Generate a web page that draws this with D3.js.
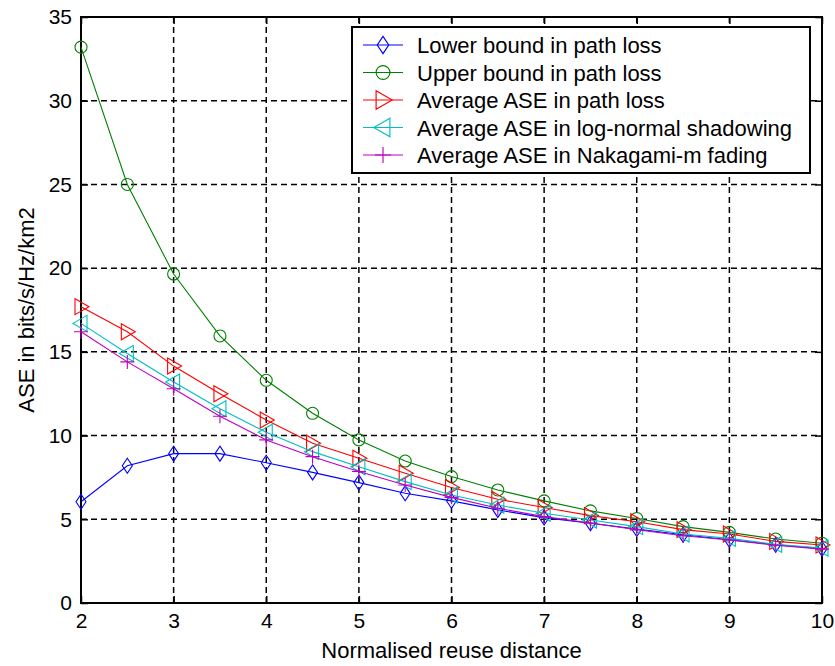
<!DOCTYPE html>
<html>
<head>
<meta charset="utf-8">
<script src="https://cdn.jsdelivr.net/npm/d3@7"></script>
<style>
  body { margin: 0; background: #fff; }
  svg text { font-family: "Liberation Sans", Arial, sans-serif; fill: #000; }
  .grid line { stroke: #000; stroke-width: 1.5; stroke-dasharray: 6,4; }
</style>
</head>
<body>
<div id="chart"></div>
<script>
var reuseDistance = [2, 2.5, 3, 3.5, 4, 4.5, 5, 5.5, 6, 6.5, 7, 7.5, 8, 8.5, 9, 9.5, 10];

var lowerBound = [6.05, 8.2, 8.92, 8.92, 8.38, 7.8, 7.19, 6.55, 6.1, 5.56, 5.1, 4.76, 4.42, 4.08, 3.78, 3.48, 3.24];
var upperBound = [33.2, 25.0, 19.65, 15.95, 13.3, 11.33, 9.74, 8.48, 7.55, 6.75, 6.1, 5.5, 5.05, 4.56, 4.22, 3.82, 3.57];
var avgPathLoss = [17.7, 16.2, 14.15, 12.5, 10.93, 9.54, 8.64, 7.75, 6.9, 6.2, 5.7, 5.22, 4.85, 4.38, 4.12, 3.68, 3.46];
var avgShadowing = [16.7, 14.9, 13.2, 11.6, 10.2, 9.04, 8.14, 7.25, 6.45, 5.85, 5.36, 4.96, 4.56, 4.12, 3.86, 3.5, 3.28];
var avgNakagami = [16.2, 14.4, 12.8, 11.15, 9.74, 8.74, 7.85, 7.05, 6.31, 5.66, 5.16, 4.78, 4.38, 4.02, 3.76, 3.45, 3.22];

var seriesNames = [
    "Lower bound in path loss",
    "Upper bound in path loss",
    "Average ASE in path loss",
    "Average ASE in log-normal shadowing",
    "Average ASE in Nakagami-m fading"
];
var xTicks = [2, 3, 4, 5, 6, 7, 8, 9, 10];
var yTicks = [0, 5, 10, 15, 20, 25, 30, 35];

var xLabel = "Normalised reuse distance";
var yLabel = "ASE in bits/s/Hz/km2";

// marker shapes, drawn around (0,0)
var markers = {
    diamond: "M0,-7.5L5,0L0,7.5L-5,0Z",
    circle: "M6,0A6,6 0 1,1 -6,0A6,6 0 1,1 6,0Z",
    triRight: "M-6,-8L8,0L-6,8Z",
    triLeft: "M6,-8L-8,0L6,8Z",
    plus: "M-7,0H7M0,-7V7"
};

var series = [
    {name: seriesNames[0], values: lowerBound, color: "#0000ff", marker: "diamond"},
    {name: seriesNames[1], values: upperBound, color: "#008000", marker: "circle"},
    {name: seriesNames[2], values: avgPathLoss, color: "#ff0000", marker: "triRight"},
    {name: seriesNames[3], values: avgShadowing, color: "#00bfbf", marker: "triLeft"},
    {name: seriesNames[4], values: avgNakagami, color: "#bf00bf", marker: "plus"}
];

var width = 835, height = 666;
var margin = {left: 81, right: 13, top: 17, bottom: 63};

var xScale = d3.scaleLinear()
    .domain([2, 10])
    .range([margin.left, width - margin.right]);
var yScale = d3.scaleLinear()
    .domain([0, 35])
    .range([height - margin.bottom, margin.top]);

var svg = d3.select("#chart")
    .append("svg")
    .attr("width", width)
    .attr("height", height);

// grid
var grid = svg.append("g").classed("grid", true);
grid.selectAll("line.gx")
    .data(xTicks.slice(1, -1))
    .enter()
    .append("line")
    .attr("class", "gx")
    .attr("x1", d => xScale(d))
    .attr("x2", d => xScale(d))
    .attr("y1", yScale(0))
    .attr("y2", yScale(35));
grid.selectAll("line.gy")
    .data(yTicks.slice(1, -1))
    .enter()
    .append("line")
    .attr("class", "gy")
    .attr("x1", xScale(2))
    .attr("x2", xScale(10))
    .attr("y1", d => yScale(d))
    .attr("y2", d => yScale(d));

// axes: ticks point inwards like matlab
var xAxis = svg.append("g")
    .attr("transform", "translate(0," + yScale(0) + ")")
    .call(d3.axisBottom(xScale).tickValues(xTicks).tickSize(-7).tickPadding(10).tickSizeOuter(0));
var xAxisTop = svg.append("g")
    .attr("transform", "translate(0," + yScale(35) + ")")
    .call(d3.axisTop(xScale).tickValues(xTicks).tickSize(-7).tickFormat("").tickSizeOuter(0));
var yAxis = svg.append("g")
    .attr("transform", "translate(" + xScale(2) + ",0)")
    .call(d3.axisLeft(yScale).tickValues(yTicks).tickSize(-7).tickPadding(9).tickSizeOuter(0));
var yAxisRight = svg.append("g")
    .attr("transform", "translate(" + xScale(10) + ",0)")
    .call(d3.axisRight(yScale).tickValues(yTicks).tickSize(-7).tickFormat("").tickSizeOuter(0));

svg.selectAll(".tick line").attr("stroke", "#000").attr("stroke-width", 1.5);
svg.selectAll(".domain").remove();
svg.selectAll(".tick text")
    .style("font-family", "'Liberation Sans', Arial, sans-serif")
    .style("font-size", "21px")
    .attr("fill", "#000");

svg.append("rect")
    .attr("x", xScale(2))
    .attr("y", yScale(35))
    .attr("width", xScale(10) - xScale(2))
    .attr("height", yScale(0) - yScale(35))
    .attr("fill", "none")
    .attr("stroke", "#000")
    .attr("stroke-width", 2);

// series
var line = d3.line()
    .x((d, i) => xScale(reuseDistance[i]))
    .y(d => yScale(d));

series.forEach(s => {
    var g = svg.append("g");
    g.append("path")
        .datum(s.values)
        .attr("d", line)
        .attr("fill", "none")
        .attr("stroke", s.color)
        .attr("stroke-width", 1.1);
    g.selectAll("path.m")
        .data(s.values)
        .enter()
        .append("path")
        .attr("class", "m")
        .attr("transform", (d, i) => "translate(" + xScale(reuseDistance[i]) + "," + yScale(d) + ")")
        .attr("d", markers[s.marker])
        .attr("fill", "none")
        .attr("stroke", s.color)
        .attr("stroke-width", 1.1);
});

// labels
svg.append("text")
    .attr("x", (xScale(2) + xScale(10)) / 2)
    .attr("y", 658)
    .attr("text-anchor", "middle")
    .style("font-size", "22px")
    .text(xLabel);
svg.append("text")
    .attr("transform", "translate(34," + (yScale(0) + yScale(35)) / 2 + ") rotate(-90)")
    .attr("text-anchor", "middle")
    .style("font-size", "22px")
    .text(yLabel);

// legend
var legend = svg.append("g").attr("transform", "translate(352,27)");
legend.append("rect")
    .attr("width", 458)
    .attr("height", 146)
    .attr("fill", "#fff")
    .attr("stroke", "#000")
    .attr("stroke-width", 2);
var rows = legend.selectAll("g.row")
    .data(series)
    .enter()
    .append("g")
    .attr("class", "row")
    .attr("transform", (d, i) => "translate(0," + (18 + i * 27.5) + ")");
rows.append("line")
    .attr("x1", 11)
    .attr("x2", 51)
    .attr("stroke", d => d.color)
    .attr("stroke-width", 1.1);
rows.append("path")
    .attr("transform", "translate(31,0) scale(1.15)")
    .attr("d", d => markers[d.marker])
    .attr("fill", "none")
    .attr("stroke", d => d.color)
    .attr("stroke-width", 1);
rows.append("text")
    .attr("x", 65)
    .attr("y", 8)
    .style("font-size", "22px")
    .text(d => d.name);
</script>
</body>
</html>
